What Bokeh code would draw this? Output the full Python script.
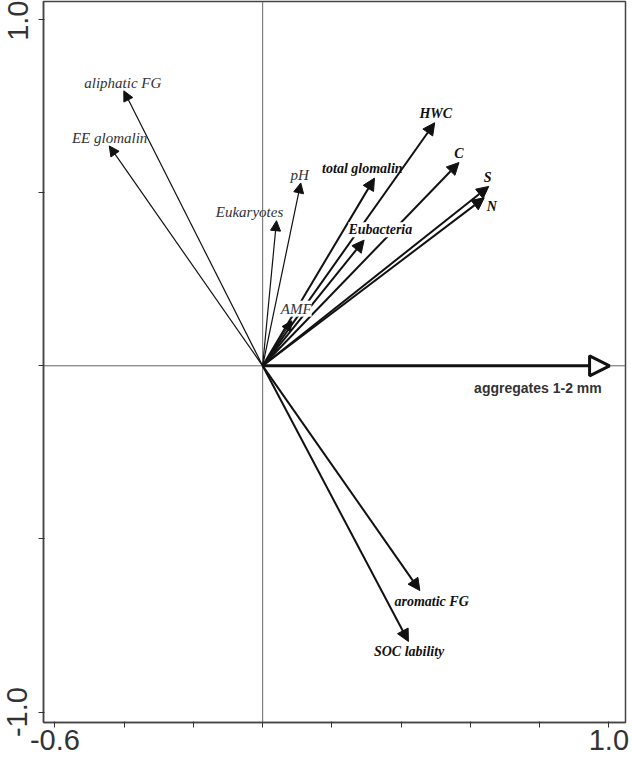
from bokeh.plotting import figure
from bokeh.models import (Range1d, FixedTicker, Span, Arrow, NormalHead,
                          ColumnDataSource, LabelSet, PrintfTickFormatter)
from bokeh.core.properties import value
from bokeh.embed import file_html
from bokeh.resources import INLINE

# ---------------- data ----------------
# thin arrows (normal italic labels)
thin_names = ["aliphatic FG", "EE glomalin", "pH", "Eukaryotes", "AMF"]
thin_x = [-0.401, -0.443, 0.110, 0.040, 0.084]
thin_y = [0.794, 0.635, 0.528, 0.419, 0.130]
thin_lx = [-0.404, -0.442, 0.107, -0.038, 0.097]
thin_ly = [0.818, 0.659, 0.552, 0.445, 0.165]

# thick arrows (bold italic labels)
thick_names = ["HWC", "C", "S", "N", "total glomalin", "Eubacteria",
               "aromatic FG", "SOC lability"]
thick_x = [0.497, 0.567, 0.653, 0.640, 0.323, 0.293, 0.454, 0.421]
thick_y = [0.702, 0.587, 0.518, 0.485, 0.542, 0.363, -0.649, -0.796]
thick_lx = [0.500, 0.567, 0.650, 0.662, 0.288, 0.340, 0.488, 0.423]
thick_ly = [0.730, 0.613, 0.545, 0.461, 0.571, 0.393, -0.682, -0.825]

# explanatory variable
env_name = ["aggregates 1-2 mm"]
env_x = [1.002]
env_y = [0.0]
env_lx = [0.795]
env_ly = [-0.064]

# labels drawn on a white box (they mask the lines under them)
masked_labels = ["AMF", "Eubacteria"]

x_major = [-0.6, 1.0]
x_minor = [-0.4, -0.2, 0.0, 0.2, 0.4, 0.6, 0.8]
y_major = [-1.0, 1.0]
y_minor = [-0.5, 0.0, 0.5]

# ---------------- figure ----------------
p = figure(width=632, height=763, output_backend="svg", toolbar_location=None,
           x_range=Range1d(-0.633, 1.048), y_range=Range1d(-1.030, 1.052),
           min_border_left=43, min_border_right=7, min_border_top=1,
           min_border_bottom=41, background_fill_color="white",
           border_fill_color="white")
p.grid.visible = False
p.outline_line_color = "#444444"
p.outline_line_width = 1.5

for ax, maj, mnr in ((p.xaxis[0], x_major, x_minor), (p.yaxis[0], y_major, y_minor)):
    ax.ticker = FixedTicker(ticks=maj, minor_ticks=mnr)
    ax.formatter = PrintfTickFormatter(format="%.1f")
    ax.axis_line_color = "#444444"
    ax.axis_line_width = 1.5
    ax.major_tick_line_color = "#333333"
    ax.minor_tick_line_color = "#333333"
    ax.major_tick_out = 5
    ax.major_tick_in = 1
    ax.minor_tick_out = 5
    ax.minor_tick_in = 1
    ax.major_label_text_font = "Liberation Sans"
    ax.major_label_text_font_size = "29px"
    ax.major_label_text_color = "#333333"
p.xaxis[0].major_label_standoff = 2
p.yaxis[0].major_label_standoff = 11
p.yaxis[0].major_label_orientation = "vertical"

p.add_layout(Span(location=0, dimension="height", line_color="#666666", line_width=1))
p.add_layout(Span(location=0, dimension="width", line_color="#666666", line_width=1))


def make_src(names, xs, ys, lxs, lys):
    return ColumnDataSource(dict(x0=[0.0] * len(xs), y0=[0.0] * len(xs),
                                 x=xs, y=ys, lx=lxs, ly=lys, name=names))


thin_src = make_src(thin_names, thin_x, thin_y, thin_lx, thin_ly)
thick_src = make_src(thick_names, thick_x, thick_y, thick_lx, thick_ly)
env_src = make_src(env_name, env_x, env_y, env_lx, env_ly)

p.add_layout(Arrow(source=thin_src, x_start="x0", y_start="y0", x_end="x", y_end="y",
                   line_width=1.2, line_color="#111111",
                   end=NormalHead(size=10, fill_color="#111111", line_color="#111111",
                                  line_width=1)))
p.add_layout(Arrow(source=thick_src, x_start="x0", y_start="y0", x_end="x", y_end="y",
                   line_width=2, line_color="#111111",
                   end=NormalHead(size=12, fill_color="#111111", line_color="#111111",
                                  line_width=1)))
p.add_layout(Arrow(source=env_src, x_start="x0", y_start="y0", x_end="x", y_end="y",
                   line_width=3, line_color="#111111",
                   end=NormalHead(size=20, fill_color="white", line_color="#111111",
                                  line_width=3)))


def label_src(names, lxs, lys, masked):
    keep = [i for i, n in enumerate(names) if (n in masked_labels) == masked]
    return ColumnDataSource(dict(lx=[lxs[i] for i in keep], ly=[lys[i] for i in keep],
                                 name=[names[i] for i in keep]))


common = dict(x="lx", y="ly", text="name", text_align="center",
              text_baseline="middle", text_font=value("Liberation Serif"))
for masked in (False, True):
    extra = dict(background_fill_color="white", background_fill_alpha=1.0) if masked else {}
    p.add_layout(LabelSet(source=label_src(thin_names, thin_lx, thin_ly, masked),
                          text_font_style="italic", text_font_size="15px",
                          text_color="#333333", **common, **extra))
    p.add_layout(LabelSet(source=label_src(thick_names, thick_lx, thick_ly, masked),
                          text_font_style="bold italic", text_font_size="14px",
                          text_color="#111111", **common, **extra))

p.add_layout(LabelSet(source=env_src, x="lx", y="ly", text="name", text_align="center",
                      text_baseline="middle", text_font=value("Liberation Sans"),
                      text_font_style="bold", text_font_size="14px",
                      text_color="#333333"))

open("out.html", "w").write(file_html(p, INLINE))
